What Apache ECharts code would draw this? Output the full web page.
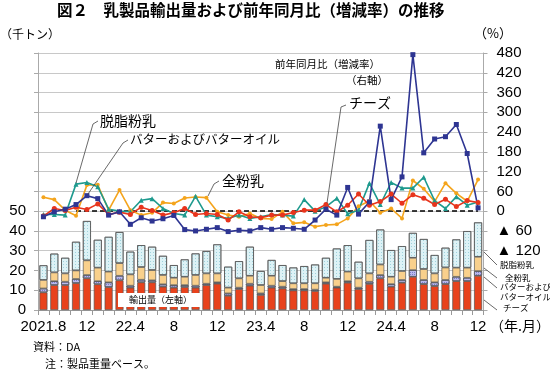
<!DOCTYPE html>
<html><head><meta charset="utf-8">
<script src="https://cdn.jsdelivr.net/npm/echarts@6/dist/echarts.min.js"></script>
<style>html,body{margin:0;padding:0;background:#fff}#c{width:550px;height:373px}</style>
</head><body><div id="c"></div>
<script>
const months = ['2021.08','2021.09','2021.10','2021.11','2021.12','2022.01','2022.02','2022.03','2022.04','2022.05','2022.06','2022.07','2022.08','2022.09','2022.10','2022.11','2022.12','2023.01','2023.02','2023.03','2023.04','2023.05','2023.06','2023.07','2023.08','2023.09','2023.10','2023.11','2023.12','2024.01','2024.02','2024.03','2024.04','2024.05','2024.06','2024.07','2024.08','2024.09','2024.10','2024.11','2024.12'];
const tickLabels = ['2021.8','','','','12','','','','22.4','','','','8','','','','12','','','','23.4','','','','8','','','','12','','','','24.4','','','','8','','','','12'];
const leftTicks = [0,10,20,30,40,50];
const rightTicks = [-120,-60,0,60,120,180,240,300,360,420,480];

// export volume (thousand tonnes)
const cheese = [8.9,12.6,12.6,13.6,16.0,13.0,11.6,15.0,11.3,14.0,14.0,11.8,11.3,11.6,11.3,12.6,13.3,7.2,10.6,12.3,7.6,11.3,10.9,9.9,9.9,9.6,13.3,11.3,13.8,10.6,13.2,16.0,11.8,13.8,16.8,13.1,12.1,13.1,14.6,14.6,17.3];
const butter = [2.0,2.0,1.7,2.1,1.7,1.6,2.4,2.3,1.0,1.3,1.0,1.2,1.3,1.0,1.0,0.7,0.7,1.2,0.7,1.0,0.8,1.0,0.9,0.7,0.7,0.7,0.7,0.5,0.8,0.7,1.1,1.7,1.3,1.4,3.4,2.1,1.9,2.1,2.2,1.7,2.4];
const wmp = [4.3,4.4,4.2,4.3,7.4,6.8,5.4,6.4,5.7,6.4,5.2,4.7,3.7,4.2,5.4,5.2,4.5,2.9,4.7,4.0,4.2,5.0,2.8,2.9,2.9,3.2,2.3,3.9,4.8,4.7,4.2,5.3,3.7,4.5,6.2,5.5,4.5,6.3,4.6,5.1,7.2];
const smp = [7.4,9.5,7.9,14.5,19.9,14.1,17.6,15.7,11.5,11.1,11.8,9.7,6.4,8.8,10.9,11.3,14.7,10.6,8.7,14.7,7.1,8.0,8.1,8.0,8.7,9.5,10.1,15.4,13.4,8.4,16.9,17.7,13.5,12.6,12.6,15.2,9.3,10.0,14.3,18.5,17.4];

// YoY change (%)
const yoyButter = [-17,-2,6,20,47,38,-12,-2,-40,-20,-30,-23,-13,-56,-60,-55,-50,-62,-58,-60,-50,-55,-50,-52,-55,-27,6,-12,72,-9,28,258,35,104,475,177,219,226,263,175,10];
const yoySmp = [-10,-10,-12,82,87,74,6,0,-2,33,38,8,-7,-12,45,-12,-17,-22,-12,-22,-17,-10,-12,-15,35,0,13,39,-8,3,85,20,87,70,70,103,32,8,44,18,28];
const yoyWmp = [42,35,3,-14,79,80,3,64,3,-12,-5,26,23,40,43,41,-2,-12,-17,-7,-22,-24,-2,-37,-34,-47,-42,-40,-22,15,31,-5,8,-22,93,68,29,85,54,30,96];
const yoyCheese = [-15,8,2,12,5,22,-10,-3,-10,12,2,-12,-5,8,-10,-7,-10,-27,-2,-17,-20,-12,-12,-4,3,3,20,-2,18,52,18,29,52,24,50,39,20,36,14,32,26];

const JP = "'Noto Sans CJK JP', sans-serif";
const NUM = "'Liberation Sans', 'Noto Sans CJK JP', sans-serif";

const chart = echarts.init(document.getElementById('c'), null, {renderer:'canvas'});

function barSeries(name, data, color, decal) {
  const s = {name, type:'bar', stack:'v', data, barWidth:8, yAxisIndex:0,
    itemStyle:{color, borderColor:'#555', borderWidth:0.7}};
  if (decal) s.itemStyle.decal = decal;
  return s;
}
function lineSeries(name, data, color, symbol, size) {
  return {name, type:'line', yAxisIndex:1, data, symbol, symbolSize:size,
    lineStyle:{color, width:1.6}, itemStyle:{color}, z:5};
}

const orangeLine = lineSeries('全粉乳前年比', yoyWmp, '#F4A41C', 'circle', 4);
orangeLine.markLine = {silent:true, symbol:['none','none'], label:{show:false},
  lineStyle:{type:[5,3], color:'#000', width:1.5},
  data:[[{coord:[months[3],0]},{coord:[months[40],0]}]]};

const option = {
  animation:false,
  grid:{left:38, right:66.5, top:53, bottom:63},
  xAxis:{type:'category', data:months, boundaryGap:true,
    axisLine:{lineStyle:{color:'#999'}},
    axisTick:{show:true, interval:0, length:5, lineStyle:{color:'#999'}},
    axisLabel:{interval:0, margin:9, fontSize:15, color:'#000', fontFamily:NUM,
      formatter:(v,i)=>tickLabels[i]}},
  yAxis:[
    {type:'value', min:0, max:130, interval:10, position:'left',
      axisLine:{show:true, lineStyle:{color:'#aaa'}},
      axisTick:{show:true, length:4, lineStyle:{color:'#aaa'}},
      splitLine:{show:true, lineStyle:{color:'#c8c8c8', width:1}},
      axisLabel:{margin:12, fontSize:15, color:'#000', fontFamily:NUM,
        formatter:v=>leftTicks.includes(v)?String(v):''}},
    {type:'value', min:-300, max:480, interval:60, position:'right',
      axisLine:{show:true, lineStyle:{color:'#aaa'}},
      axisTick:{show:true, length:4, lineStyle:{color:'#aaa'}},
      splitLine:{show:false},
      axisLabel:{margin:13, fontSize:15, color:'#000', fontFamily:NUM,
        formatter:v=>rightTicks.includes(v)?(v<0?'▲ '+(-v):String(v)):''}}
  ],
  series:[
    barSeries('チーズ', cheese, '#E8421C'),
    barSeries('バターおよびバターオイル', butter, '#B9B9EC', {symbol:'rect', symbolSize:1, color:'#7d7dc8', dashArrayX:[1,1], dashArrayY:[1,1]}),
    barSeries('全粉乳', wmp, '#F9D08C'),
    barSeries('脱脂粉乳', smp, '#DDF2F6', {symbol:'circle', symbolSize:1, color:'#8cc8d4', dashArrayX:[1,2], dashArrayY:[1,2]}),
    orangeLine,
    lineSeries('脱脂粉乳前年比', yoySmp, '#1E9A8E', 'triangle', 5),
    lineSeries('チーズ前年比', yoyCheese, '#E8341C', 'circle', 5),
    lineSeries('バター前年比', yoyButter, '#2E3592', 'rect', 5)
  ],
  graphic:[
    {type:'text', x:57, y:2, style:{text:'図２　乳製品輸出量および前年同月比（増減率）の推移', font:'bold 15.5px '+JP, fill:'#000'}},
    {type:'text', x:0, y:28, style:{text:'（千トン）', font:'12px '+JP, fill:'#000'}},
    {type:'text', x:474, y:27, style:{text:'（%）', font:'13px '+JP, fill:'#000'}},
    {type:'text', x:490, y:319, style:{text:'（年.月）', font:'14px '+JP, fill:'#000'}, z:100},
    {type:'text', x:33, y:341, style:{text:'資料：DA', font:'11px '+JP, fill:'#000'}},
    {type:'text', x:45, y:358, style:{text:'注：製品重量ベース。', font:'11px '+JP, fill:'#000'}},
    {type:'text', x:275, y:59, style:{text:'前年同月比（増減率）', font:'10.5px '+JP, fill:'#000'}, z:100},
    {type:'text', x:346, y:75, style:{text:'（右軸）', font:'10.5px '+JP, fill:'#000'}, z:100},
    {type:'text', x:349, y:96, style:{text:'チーズ', font:'14px '+JP, fill:'#000'}, z:100},
    {type:'polyline', shape:{points:[[346,105],[341,107],[327,203]]}, style:{stroke:'#444', lineWidth:0.8, fill:null}, z:100},
    {type:'text', x:100, y:114, style:{text:'脱脂粉乳', font:'14px '+JP, fill:'#000'}, z:100},
    {type:'polyline', shape:{points:[[98,121],[93,124],[76,183]]}, style:{stroke:'#444', lineWidth:0.8, fill:null}, z:100},
    {type:'text', x:130, y:133, style:{text:'バターおよびバターオイル', font:'12.5px '+JP, fill:'#000'}, z:100},
    {type:'polyline', shape:{points:[[128,140],[123,143],[88,194]]}, style:{stroke:'#444', lineWidth:0.8, fill:null}, z:100},
    {type:'text', x:222, y:174, style:{text:'全粉乳', font:'14px '+JP, fill:'#000'}, z:100},
    {type:'polyline', shape:{points:[[219,181],[214,184],[208,196]]}, style:{stroke:'#444', lineWidth:0.8, fill:null}, z:100},
    {type:'rect', shape:{x:118, y:293, width:82, height:14}, style:{fill:'#fff'}, z:100},
    {type:'text', x:129, y:295, style:{text:'輸出量（左軸）', font:'9px '+JP, fill:'#000'}, z:101},
    {type:'polyline', shape:{points:[[484,252],[497,265]]}, style:{stroke:'#444', lineWidth:0.8, fill:null}, z:100},
    {type:'polyline', shape:{points:[[484,268],[497,278]]}, style:{stroke:'#444', lineWidth:0.8, fill:null}, z:100},
    {type:'polyline', shape:{points:[[484,277],[497,288]]}, style:{stroke:'#444', lineWidth:0.8, fill:null}, z:100},
    {type:'polyline', shape:{points:[[484,300],[497,310]]}, style:{stroke:'#444', lineWidth:0.8, fill:null}, z:100},
    {type:'text', x:500, y:261, style:{text:'脱脂粉乳', font:'8.5px '+JP, fill:'#000'}, z:100},
    {type:'text', x:505, y:274, style:{text:'全粉乳', font:'8.5px '+JP, fill:'#000'}, z:100},
    {type:'text', x:500, y:283, style:{text:'バターおよび', font:'8.5px '+JP, fill:'#000'}, z:100},
    {type:'text', x:500, y:293, style:{text:'バターオイル', font:'8.5px '+JP, fill:'#000'}, z:100},
    {type:'text', x:503, y:304, style:{text:'チーズ', font:'8.5px '+JP, fill:'#000'}, z:100}
  ]
};
chart.setOption(option);
</script></body></html>
